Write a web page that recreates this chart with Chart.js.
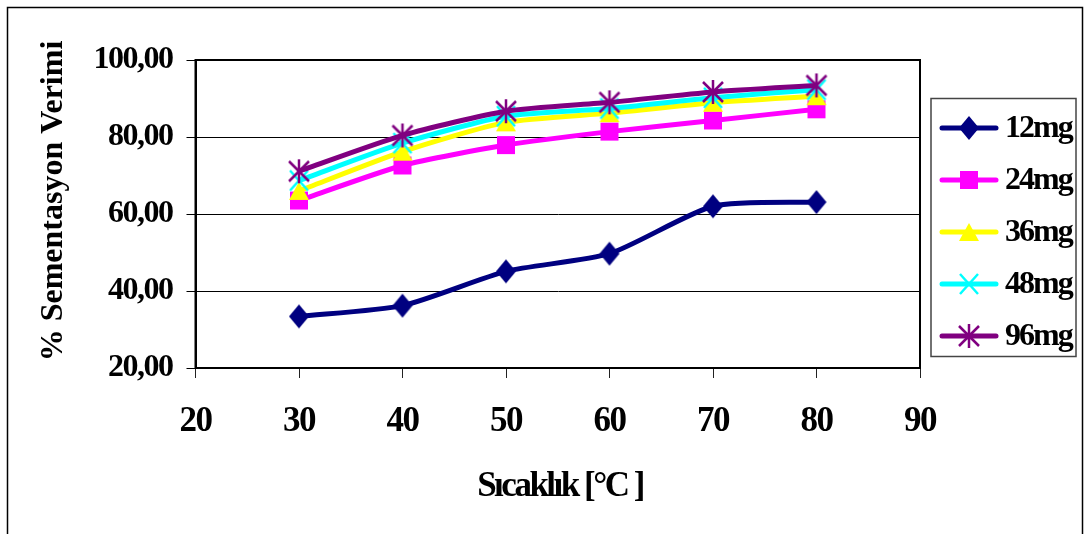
<!DOCTYPE html>
<html>
<head>
<meta charset="utf-8">
<script src="https://cdn.jsdelivr.net/npm/chart.js@4"></script>
<style>
  body { margin: 0; background: #fff; }
</style>
</head>
<body>
<canvas id="chart" width="1085" height="534"></canvas>
<script>
// data
var temps = [30, 40, 50, 60, 70, 80];
var seriesNames = ['12mg', '24mg', '36mg', '48mg', '96mg'];
var s12 = [33.4, 36.2, 45.1, 49.7, 62.0, 63.1];
var s24 = [63.5, 72.6, 77.9, 81.4, 84.3, 87.2];
var s36 = [66.0, 76.2, 83.8, 86.2, 88.9, 90.6];
var s48 = [68.7, 78.4, 85.4, 87.4, 90.2, 92.3];
var s96 = [71.1, 80.4, 86.7, 89.0, 91.7, 93.4];
var colors = ['#000080', '#FF00FF', '#FFFF00', '#00FFFF', '#800080'];
var FONT = '"Liberation Serif", "Times New Roman", serif';

function marker(kind, color) {
  var c = document.createElement('canvas');
  var w = 24, h = 26;
  c.width = w; c.height = h;
  var g = c.getContext('2d');
  g.fillStyle = color;
  g.strokeStyle = color;
  var cx = w / 2, cy = h / 2;
  if (kind == 'diamond') {
    g.beginPath();
    g.moveTo(cx, cy - 12); g.lineTo(cx + 10, cy); g.lineTo(cx, cy + 12); g.lineTo(cx - 10, cy);
    g.closePath(); g.fill();
  } else if (kind == 'square') {
    g.fillRect(cx - 9, cy - 9, 18, 18);
  } else if (kind == 'triangle') {
    g.beginPath();
    g.moveTo(cx, cy - 9); g.lineTo(cx + 10, cy + 9); g.lineTo(cx - 10, cy + 9);
    g.closePath(); g.fill();
  } else if (kind == 'x') {
    g.lineWidth = 2.5;
    g.beginPath();
    g.moveTo(cx - 9, cy - 10); g.lineTo(cx + 9, cy + 10);
    g.moveTo(cx + 9, cy - 10); g.lineTo(cx - 9, cy + 10);
    g.stroke();
  } else {
    g.lineWidth = 2.5;
    g.beginPath();
    g.moveTo(cx - 10, cy - 10); g.lineTo(cx + 10, cy + 10);
    g.moveTo(cx + 10, cy - 10); g.lineTo(cx - 10, cy + 10);
    g.moveTo(cx, cy - 12); g.lineTo(cx, cy + 12);
    g.stroke();
  }
  return c;
}

var kinds = ['diamond', 'square', 'triangle', 'x', 'star'];
var allSeries = [s12, s24, s36, s48, s96];
var markers = kinds.map(function (k, i) { return marker(k, colors[i]); });

var datasets = allSeries.map(function (s, i) {
  return {
    label: seriesNames[i],
    data: s.map(function (v, j) { return { x: temps[j], y: v }; }),
    borderColor: colors[i],
    backgroundColor: colors[i],
    borderWidth: 5,
    tension: 0.22,
    pointStyle: markers[i],
    pointRadius: 10,
    order: allSeries.length - i,
    clip: false,
  };
});

var decorations = {
  id: 'decorations',
  beforeDraw: function (chart) {
    chart.ctx.letterSpacing = '-1.5px';
  },
  afterDraw: function (chart) {
    var ctx = chart.ctx;
    var a = chart.chartArea;
    ctx.save();
    ctx.letterSpacing = '0px';
    // outer frame
    ctx.strokeStyle = '#000';
    ctx.lineWidth = 1.5;
    ctx.strokeRect(7.5, 7.5, 1075, 540);
    // plot box
    ctx.lineWidth = 2;
    ctx.strokeRect(a.left, a.top, a.right - a.left, a.bottom - a.top);

    // y title
    ctx.fillStyle = '#000';
    ctx.font = 'bold 32px ' + FONT;
    ctx.textAlign = 'center';
    ctx.textBaseline = 'middle';
    ctx.translate(54, 201);
    ctx.rotate(-Math.PI / 2);
    ctx.fillText('% Sementasyon Verimi', 0, 0);
    ctx.restore();

    // x title
    ctx.save();
    ctx.fillStyle = '#000';
    ctx.font = 'bold 35px ' + FONT;
    ctx.letterSpacing = '-2.5px';
    ctx.textAlign = 'center';
    ctx.textBaseline = 'alphabetic';
    ctx.fillText('Sıcaklık [°C ]', 560, 496);

    // legend
    ctx.letterSpacing = '0px';
    ctx.strokeStyle = '#444';
    ctx.lineWidth = 1.5;
    ctx.strokeRect(931, 98.5, 145, 258);
    ctx.font = 'bold 32px ' + FONT;
    ctx.letterSpacing = '-2px';
    ctx.textAlign = 'left';
    ctx.textBaseline = 'middle';
    chart.data.datasets.forEach(function (ds, i) {
      var y = 128 + i * 52;
      ctx.strokeStyle = ds.borderColor;
      ctx.lineWidth = 5;
      ctx.lineCap = 'round';
      ctx.beginPath();
      ctx.moveTo(942, y); ctx.lineTo(996, y);
      ctx.stroke();
      var m = ds.pointStyle;
      ctx.drawImage(m, 969 - m.width / 2, y - m.height / 2);
      ctx.fillStyle = '#000';
      ctx.fillText(ds.label, 1005, y + 1);
    });
    ctx.restore();
  },
};

new Chart(document.getElementById('chart'), {
  type: 'line',
  data: { datasets: datasets },
  plugins: [decorations],
  options: {
    responsive: false,
    animation: false,
    devicePixelRatio: 1,
    layout: { padding: { left: 0, top: 60, right: 165, bottom: 0 } },
    plugins: {
      legend: { display: false },
      tooltip: { enabled: false },
    },
    scales: {
      x: {
        type: 'linear',
        min: 20,
        max: 90,
        afterFit: function (s) { s.height = 166; },
        ticks: {
          stepSize: 10,
          autoSkip: false,
          maxRotation: 0,
          padding: 23,
          color: '#000',
          font: { family: FONT, size: 35, weight: 'bold' },
        },
        grid: {
          drawOnChartArea: false,
          drawTicks: true,
          tickLength: 10,
          color: '#222',
          lineWidth: 1,
        },
        border: { display: true, color: '#000', width: 2 },
      },
      y: {
        min: 20,
        max: 100,
        afterFit: function (s) { s.width = 195.5; },
        ticks: {
          stepSize: 20,
          padding: 14,
          color: '#000',
          font: { family: FONT, size: 32, weight: 'bold' },
          callback: function (v) { return v.toFixed(2).replace('.', ','); },
        },
        grid: {
          color: '#000',
          lineWidth: 1,
          tickLength: 9,
        },
        border: { display: true, color: '#000', width: 2 },
      },
    },
  },
});
</script>
</body>
</html>
